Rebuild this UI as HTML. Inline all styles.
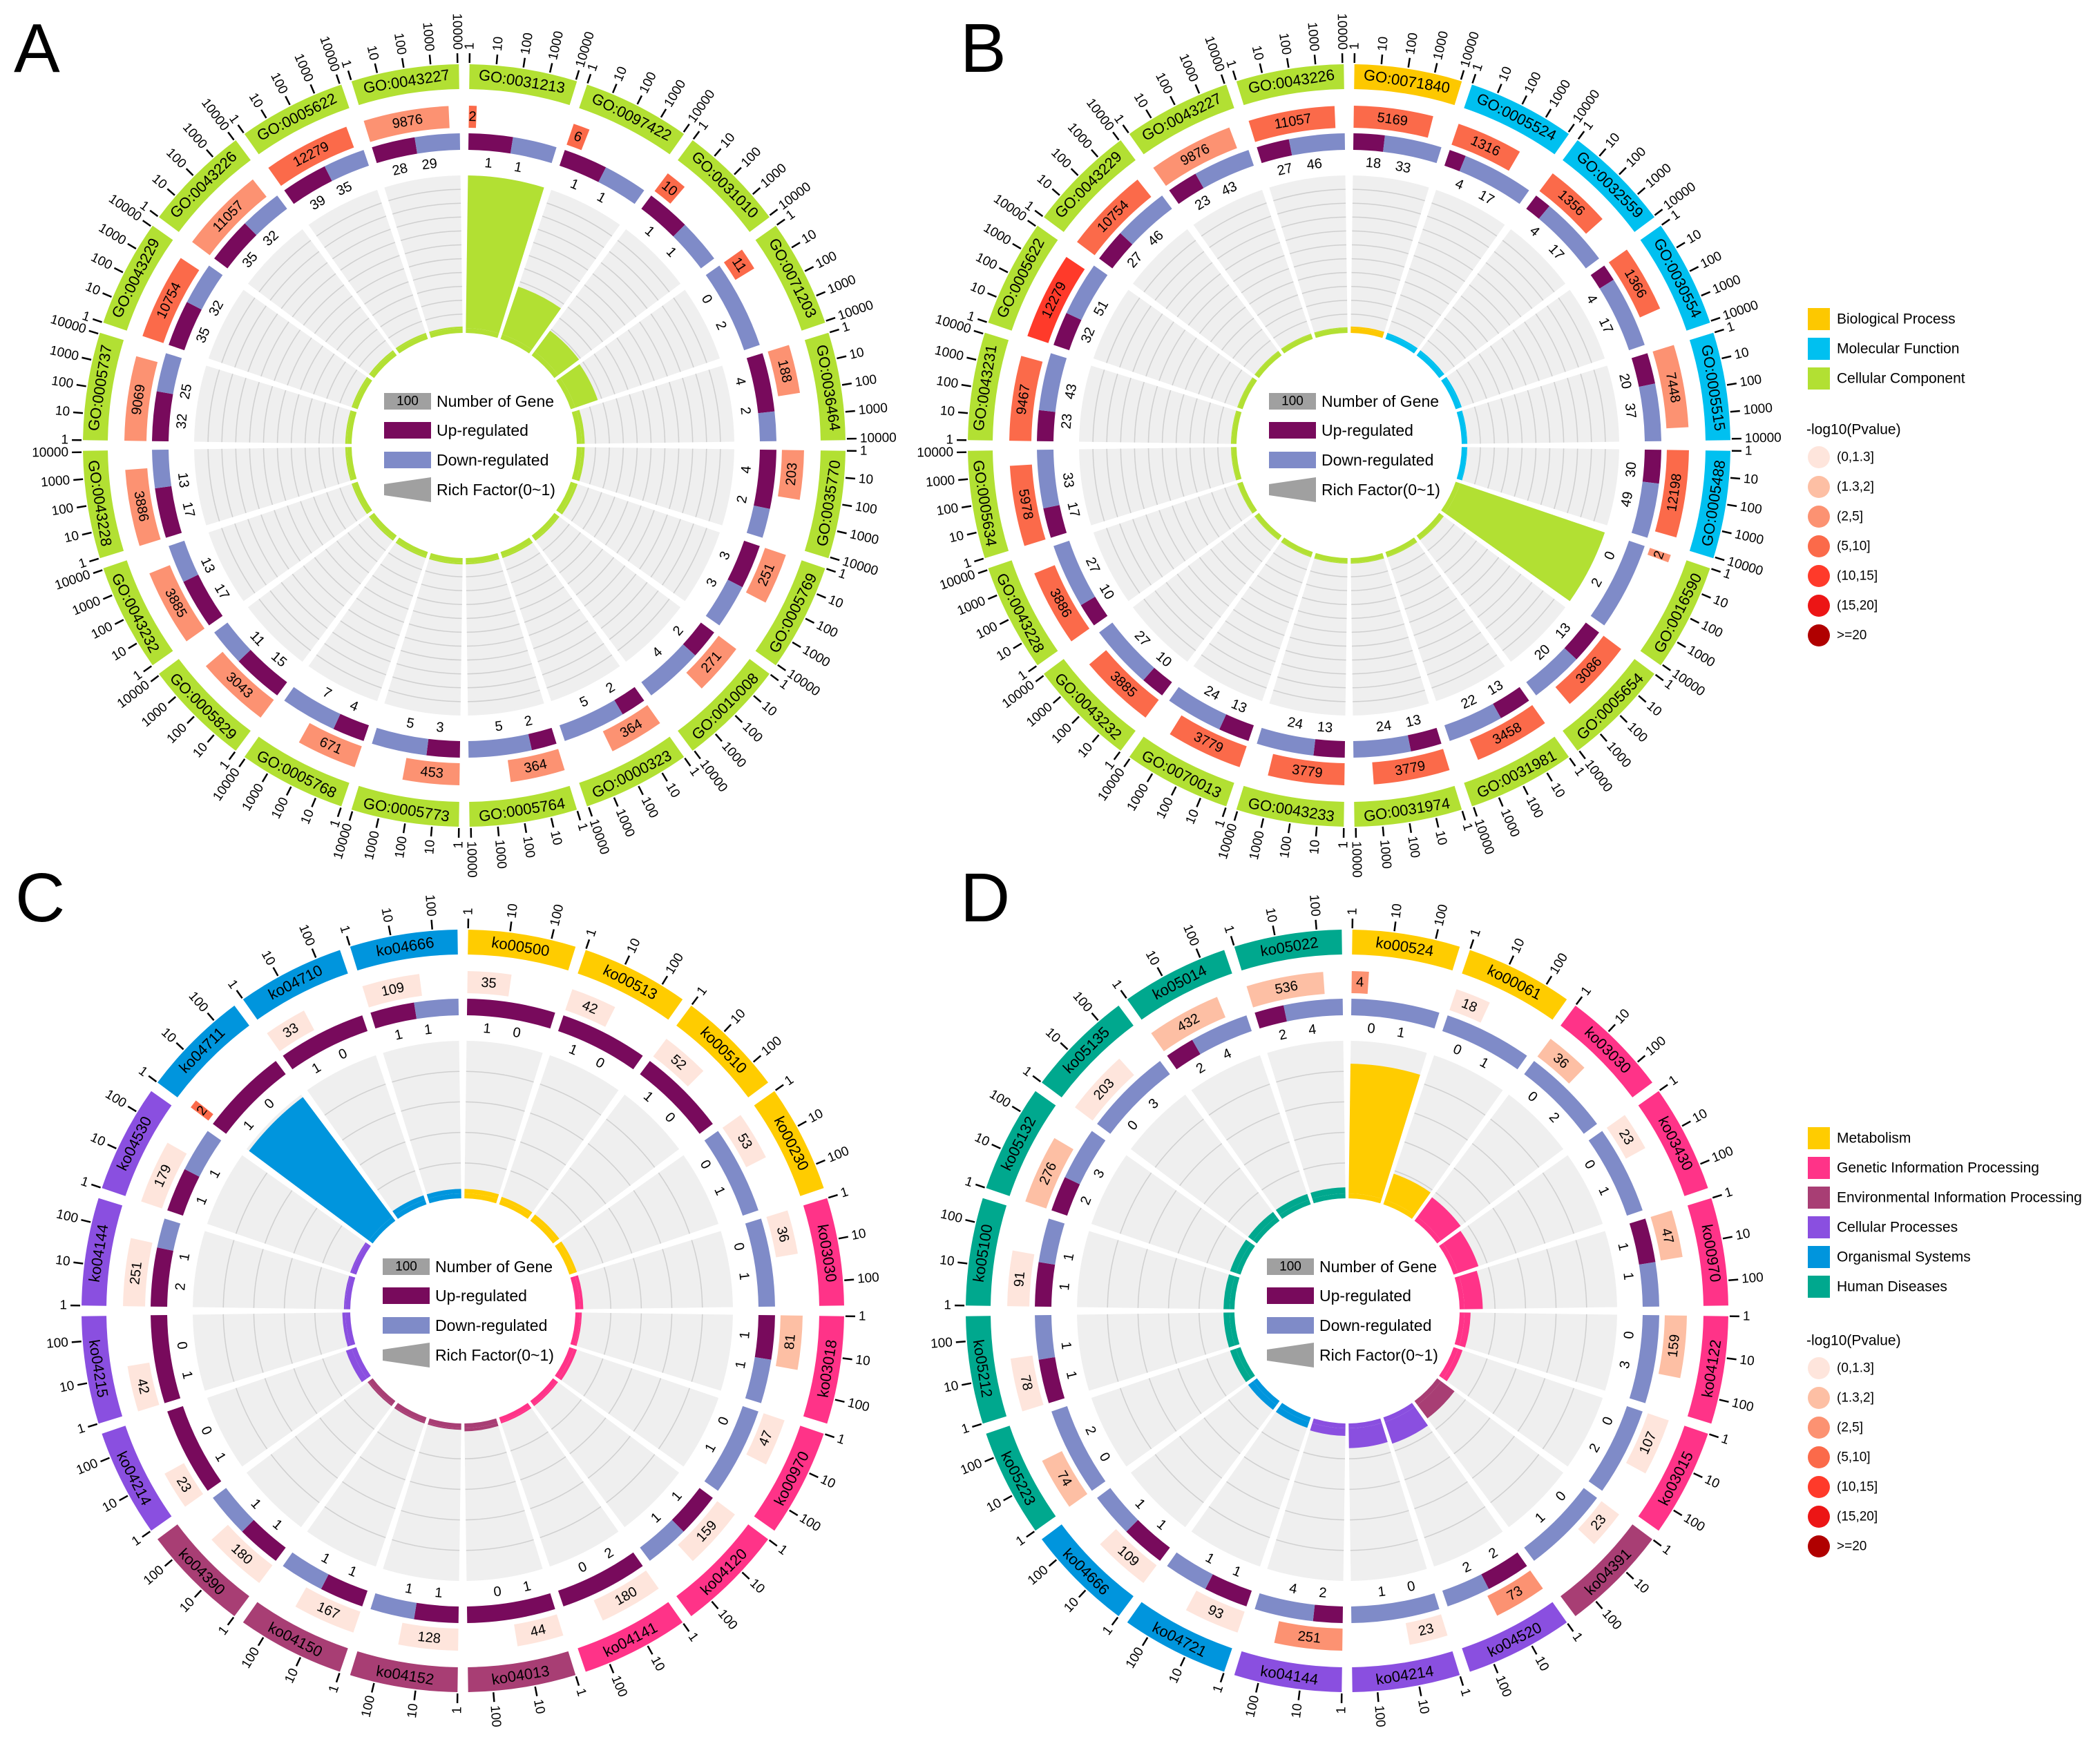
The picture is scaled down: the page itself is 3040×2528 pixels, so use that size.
<!DOCTYPE html>
<html><head><meta charset="utf-8"><style>
html,body{margin:0;padding:0;background:#fff;}
svg{display:block;font-family:"Liberation Sans",sans-serif;}
</style></head><body>
<svg id="fig" xmlns="http://www.w3.org/2000/svg" width="3040" height="2528" viewBox="0 0 3040 2528">
<rect width="3040" height="2528" fill="#fff"/>
<text x="20" y="104" font-size="100">A</text>
<text x="1390" y="104" font-size="100">B</text>
<text x="22" y="1334" font-size="100">C</text>
<text x="1390" y="1334" font-size="100">D</text>
<g id="layer"></g>
</svg>
<script>
// ---------- Panel A (GO) ----------
const aTerms=["GO:0031213","GO:0097422","GO:0031010","GO:0071203","GO:0036464","GO:0035770","GO:0005769","GO:0010008","GO:0000323","GO:0005764","GO:0005773","GO:0005768","GO:0005829","GO:0043232","GO:0043228","GO:0005737","GO:0043229","GO:0043226","GO:0005622","GO:0043227"];
const aCats=[2,2,2,2,2,2,2,2,2,2,2,2,2,2,2,2,2,2,2,2];
const aGenes=[2,6,10,11,188,203,251,271,364,364,453,671,3043,3885,3886,9069,10754,11057,12279,9876];
const aPcls=[3,3,3,3,2,2,2,2,2,2,2,2,2,2,2,2,3,2,3,2];
const aUp=[1,1,1,0,4,4,3,2,2,2,3,4,15,17,17,32,35,35,39,28];
const aDown=[1,1,1,2,2,2,3,4,5,5,5,7,11,13,13,25,32,32,35,29];
const aRich=[1.0,0.33,0.17,0.155,0.02,0.02,0.015,0.01,0.01,0.01,0.01,0.01,0.01,0.01,0.01,0.01,0.01,0.01,0.01,0.01];
// ---------- Panel B (GO) ----------
const bTerms=["GO:0071840","GO:0005524","GO:0032559","GO:0030554","GO:0005515","GO:0005488","GO:0016590","GO:0005654","GO:0031981","GO:0031974","GO:0043233","GO:0070013","GO:0043232","GO:0043228","GO:0005634","GO:0043231","GO:0005622","GO:0043229","GO:0043227","GO:0043226"];
const bCats=[0,1,1,1,1,1,2,2,2,2,2,2,2,2,2,2,2,2,2,2];
const bGenes=[5169,1316,1356,1366,7448,12198,2,3086,3458,3779,3779,3779,3885,3886,5978,9467,12279,10754,9876,11057];
const bPcls=[3,3,3,3,2,3,2,3,3,3,3,3,3,3,3,3,4,3,2,3];
const bUp=[18,4,4,4,20,30,0,13,13,13,13,13,10,10,17,23,32,27,23,27];
const bDown=[33,17,17,17,37,49,2,20,22,24,24,24,27,27,33,43,51,46,43,46];
const bRich=[0.01,0.01,0.01,0.01,0.005,0.005,1.0,0.005,0.005,0.005,0.005,0.005,0.005,0.005,0.005,0.005,0.005,0.005,0.005,0.005];
// ---------- Panel C (KEGG) ----------
const cTerms=["ko00500","ko00513","ko00510","ko00230","ko03030","ko03018","ko00970","ko04120","ko04141","ko04013","ko04152","ko04150","ko04390","ko04214","ko04215","ko04144","ko04530","ko04711","ko04710","ko04666"];
const cCats=[0,0,0,0,1,1,1,1,1,2,2,2,2,3,3,3,3,4,4,4];
const cGenes=[35,42,52,53,36,81,47,159,180,44,128,167,180,23,42,251,179,2,33,109];
const cPcls=[0,0,0,0,0,1,0,0,0,0,0,0,0,0,0,0,0,3,0,0];
const cUp=[1,1,1,0,0,1,0,1,2,1,1,1,1,1,1,2,1,1,1,1];
const cDown=[0,0,0,1,1,1,1,1,0,0,1,1,1,0,0,1,1,0,0,1];
const cRich=[0.03,0.02,0.02,0.02,0.02,0.01,0.02,0.01,0.01,0.02,0.01,0.01,0.01,0.04,0.02,0.01,0.01,0.98,0.03,0.03];
// ---------- Panel D (KEGG) ----------
const dTerms=["ko00524","ko00061","ko03030","ko03430","ko00970","ko04122","ko03015","ko04391","ko04520","ko04214","ko04144","ko04721","ko04666","ko05223","ko05212","ko05100","ko05132","ko05135","ko05014","ko05022"];
const dCats=[0,0,1,1,1,1,1,2,3,3,3,4,4,5,5,5,5,5,5,5];
const dGenes=[4,18,36,23,47,159,107,23,73,23,251,93,109,74,78,91,276,203,432,536];
const dPcls=[2,0,1,0,1,1,0,0,2,0,2,0,0,1,0,0,1,0,1,1];
const dUp=[0,0,0,0,1,0,0,0,2,0,2,1,1,0,1,1,2,0,2,2];
const dDown=[1,1,2,1,1,3,2,1,2,1,4,1,1,2,1,1,3,3,4,4];
const dRich=[0.85,0.18,0.16,0.14,0.12,0.04,0.03,0.11,0.15,0.13,0.05,0.04,0.04,0.04,0.04,0.04,0.04,0.04,0.04,0.04];

const goTicks=[1,10,100,1000,10000];
const keggTicks=[1,10,100];
const goCatNames=["Biological Process","Molecular Function","Cellular Component"];
const keggCatNames=["Metabolism","Genetic Information Processing","Environmental Information Processing","Cellular Processes","Organismal Systems","Human Diseases"];
const pLabels=["(0,1.3]","(1.3,2]","(2,5]","(5,10]","(10,15]","(15,20]",">=20"];

const goColors=["#fdc800","#00c0f0","#b2e033"];
const keggColors=["#ffcc00","#ff3388","#a83e74","#8a4fe0","#0095dd","#00a88e"];
const pColors=["#fee5dc","#fdbfa4","#fc9272","#fb6a4a","#ff3a2a","#ec1515","#b00000"];
const UPC="#780a5c",DNC="#7f8bc8";

const NS="http://www.w3.org/2000/svg";
const layer=document.getElementById('layer');
function mk(tag,attrs,parent){const e=document.createElementNS(NS,tag);for(const k in attrs)e.setAttribute(k,attrs[k]);(parent||layer).appendChild(e);return e;}
function pt(cx,cy,r,a){const t=a*Math.PI/180;return [cx+r*Math.sin(t),cy-r*Math.cos(t)];}
function arcPath(cx,cy,r0,r1,a0,a1){
  const lg=(a1-a0)>180?1:0;
  const p1=pt(cx,cy,r1,a0),p2=pt(cx,cy,r1,a1),p3=pt(cx,cy,r0,a1),p4=pt(cx,cy,r0,a0);
  return `M${p1[0].toFixed(2)},${p1[1].toFixed(2)}A${r1},${r1} 0 ${lg} 1 ${p2[0].toFixed(2)},${p2[1].toFixed(2)}L${p3[0].toFixed(2)},${p3[1].toFixed(2)}A${r0},${r0} 0 ${lg} 0 ${p4[0].toFixed(2)},${p4[1].toFixed(2)}Z`;
}
function tanRot(a){a=((a%360)+360)%360;return (a>90&&a<270)?a-180:a;}
function tanText(g,cx,cy,r,a,txt,size,name){
  const p=pt(cx,cy,r,a);
  const t=mk('text',{x:p[0].toFixed(2),y:p[1].toFixed(2),'font-size':size,'text-anchor':'middle','dominant-baseline':'central',transform:`rotate(${tanRot(a).toFixed(2)} ${p[0].toFixed(2)} ${p[1].toFixed(2)})`},g);
  t.textContent=txt;
  
  
  return t;
}

function drawPanel(id,cx,cy,terms,cats,genes,pcls,up,down,rich,colors,ticks,tickMax,barMax,gridN){
  const g=mk('g',{});
  
  
  const n=terms.length,step=360/n,gap=0.8;
  const R={catIn:516,catOut:552,barIn:460,barOut:492,udIn:428,udOut:452,cnt:410,grIn:170,grOut:391,inIn:163,inOut:170};
  for(let i=0;i<n;i++){
    const a0=i*step+gap,a1=(i+1)*step-gap,span=a1-a0,col=colors[cats[i]];
    // category ring
    const cs=mk('path',{d:arcPath(cx,cy,R.catIn,R.catOut,a0,a1),fill:col},g);
    
    
    tanText(g,cx,cy,(R.catIn+R.catOut)/2,(a0+a1)/2,terms[i],22,'term-label');
    // ticks
    for(let k=0;k<ticks.length;k++){
      const f=Math.log10(ticks[k])/tickMax;
      const a=a0+f*span;
      const p1=pt(cx,cy,R.catOut+2,a),p2=pt(cx,cy,R.catOut+16,a);
      const tl=mk('line',{x1:p1[0],y1:p1[1],x2:p2[0],y2:p2[1],stroke:'#000','stroke-width':2.5},g);
      
      
      const p=pt(cx,cy,R.catOut+21,a);
      const an=((a%360)+360)%360;
      const right=an<180;
      const t=mk('text',{x:p[0],y:p[1],'font-size':19,'text-anchor':right?'start':'end','dominant-baseline':'central',transform:`rotate(${(right?an-90:an+90).toFixed(2)} ${p[0].toFixed(2)} ${p[1].toFixed(2)})`},g);
      t.textContent=ticks[k];
      
      
    }
    // gene-count bar
    const bf=Math.max(0.08,Math.min(1,Math.log10(genes[i])/barMax));
    const bb=mk('path',{d:arcPath(cx,cy,R.barIn,R.barOut,a0,a0+bf*span),fill:pColors[pcls[i]]},g);
    
    
    tanText(g,cx,cy,(R.barIn+R.barOut)/2,a0+bf*span/2,String(genes[i]),20,'gene-count-label');
    // up/down ring
    const tot=up[i]+down[i],uf=tot>0?up[i]/tot:0;
    if(uf>0){const u=mk('path',{d:arcPath(cx,cy,R.udIn,R.udOut,a0,a0+uf*span),fill:UPC},g);
      
      }
    if(uf<1){const d=mk('path',{d:arcPath(cx,cy,R.udIn,R.udOut,a0+uf*span,a1),fill:DNC},g);
      
      }
    tanText(g,cx,cy,R.cnt,a0+span*0.25,String(up[i]),20,'up-count-label');
    tanText(g,cx,cy,R.cnt,a0+span*0.62,String(down[i]),20,'down-count-label');
    // grey rich area
    const gs=mk('path',{d:arcPath(cx,cy,R.grIn,R.grOut,a0,a1),fill:'#efefef'},g);
    
    
    for(let k=1;k<=gridN;k++){
      const rr=R.grIn+(R.grOut-R.grIn)*k/(gridN+1);
      const p1=pt(cx,cy,rr,a0),p2=pt(cx,cy,rr,a1);
      const gl=mk('path',{d:`M${p1[0]},${p1[1]}A${rr},${rr} 0 0 1 ${p2[0]},${p2[1]}`,fill:'none',stroke:'#cfcfcf','stroke-width':1.5},g);
      
      
    }
    const rr=R.grIn+Math.max(0.005,rich[i])*(R.grOut-R.grIn);
    const rb=mk('path',{d:arcPath(cx,cy,R.grIn,rr,a0,a1),fill:col},g);
    
    
    const ir=mk('path',{d:arcPath(cx,cy,R.inIn,R.inOut,a0,a1),fill:col},g);
    
    
  }
  // centre legend
  const lx=cx-116,tx=cx-40,rows=[-64,-22,21,64];
  const lg=mk('g',{},g);
  
  
  const r0=mk('rect',{x:lx,y:cy+rows[0]-12,width:68,height:24,fill:'#a0a0a0'},lg);
  
  
  const t0=mk('text',{x:lx+34,y:cy+rows[0],'font-size':19,'text-anchor':'middle','dominant-baseline':'central'},lg);t0.textContent='100';
  
  
  const r1=mk('rect',{x:lx,y:cy+rows[1]-12,width:68,height:24,fill:UPC},lg);
  
  
  const r2=mk('rect',{x:lx,y:cy+rows[2]-12,width:68,height:24,fill:DNC},lg);
  
  
  const r3=mk('polygon',{points:`${lx},${cy+rows[3]-8} ${lx+68},${cy+rows[3]-18} ${lx+68},${cy+rows[3]+18} ${lx},${cy+rows[3]+8}`,fill:'#a0a0a0'},lg);
  
  
  const labs=['Number of Gene','Up-regulated','Down-regulated','Rich Factor(0~1)'];
  for(let k=0;k<4;k++){const t=mk('text',{x:tx,y:cy+rows[k],'font-size':23,'dominant-baseline':'central'},lg);t.textContent=labs[k];
    
    }
}

drawPanel('a',672,645,aTerms,aCats,aGenes,aPcls,aUp,aDown,aRich,goColors,goTicks,4.05,4.5,10);
drawPanel('b',1953,645,bTerms,bCats,bGenes,bPcls,bUp,bDown,bRich,goColors,goTicks,4.05,4.5,10);
drawPanel('c',670,1898,cTerms,cCats,cGenes,cPcls,cUp,cDown,cRich,keggColors,keggTicks,2.6,3.4,4);
drawPanel('d',1950,1898,dTerms,dCats,dGenes,dPcls,dUp,dDown,dRich,keggColors,keggTicks,2.6,3.4,4);

function sideLegend(x,y0,names,colors,pTitleY){
  const g=mk('g',{});
  
  
  for(let i=0;i<names.length;i++){
    const y=y0+i*43;
    const r=mk('rect',{x:x,y:y-16,width:32,height:32,fill:colors[i]},g);
    
    
    const t=mk('text',{x:x+42,y:y,'font-size':21,'dominant-baseline':'central'},g);t.textContent=names[i];
    
    
  }
  const tt=mk('text',{x:x-2,y:pTitleY,'font-size':21,'dominant-baseline':'central'},g);tt.textContent='-log10(Pvalue)';
  
  
  for(let i=0;i<pLabels.length;i++){
    const y=pTitleY+40+i*43;
    const c=mk('circle',{cx:x+16,cy:y,r:16,fill:pColors[i]},g);
    
    
    const t=mk('text',{x:x+42,y:y,'font-size':19,'dominant-baseline':'central'},g);t.textContent=pLabels[i];
    
    
  }
}
sideLegend(2617,462,goCatNames,goColors,622);
sideLegend(2617,1648,keggCatNames,keggColors,1941);
</script>
</body></html>
